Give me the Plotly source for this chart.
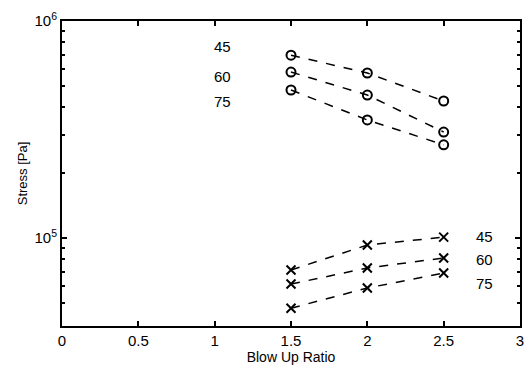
import math
import plotly.graph_objects as go

# Blow up ratios and stress values (Pa) for three angles
blow_up_ratio = [1.5, 2.0, 2.5]
angles = ["45", "60", "75"]

# circle series (upper group)
stress_o_45 = [6.96e5, 5.76e5, 4.28e5]
stress_o_60 = [5.82e5, 4.56e5, 3.08e5]
stress_o_75 = [4.81e5, 3.50e5, 2.69e5]

# cross series (lower group)
stress_x_45 = [7.13e4, 9.29e4, 1.01e5]
stress_x_60 = [6.14e4, 7.28e4, 8.10e4]
stress_x_75 = [4.75e4, 5.89e4, 6.90e4]

x_ticks = [0, 0.5, 1, 1.5, 2, 2.5, 3]
x_tick_text = ["0", "0.5", "1", "1.5", "2", "2.5", "3"]
y_ticks = [1e5, 1e6]
y_tick_text = ["10<sup>5</sup>", "10<sup>6</sup>"]
y_minor_ticks = [5e4, 6e4, 7e4, 8e4, 9e4,
                 2e5, 3e5, 4e5, 5e5, 6e5, 7e5, 8e5, 9e5]

# label positions for the angle annotations
label_upper_x = 1.05
label_upper_y = [7.67e5, 5.58e5, 4.24e5]
label_lower_x = 2.77
label_lower_y = [1.02e5, 7.93e4, 6.21e4]

fig = go.Figure()

for ys in (stress_o_45, stress_o_60, stress_o_75):
    fig.add_trace(go.Scatter(
        x=blow_up_ratio, y=ys, mode="lines+markers",
        line=dict(color="black", width=1.5, dash="dash"),
        marker=dict(symbol="circle-open", size=9, color="black",
                    line=dict(width=2, color="black")),
        showlegend=False))

for ys in (stress_x_45, stress_x_60, stress_x_75):
    fig.add_trace(go.Scatter(
        x=blow_up_ratio, y=ys, mode="lines+markers",
        line=dict(color="black", width=1.5, dash="dash"),
        marker=dict(symbol="x-thin-open", size=9, color="black",
                    line=dict(width=2, color="black")),
        showlegend=False))

# annotations on a log axis take log10 positions
for name, yv in zip(angles, label_upper_y):
    fig.add_annotation(x=label_upper_x, y=math.log10(yv), text=name,
                       showarrow=False, xanchor="center", yanchor="middle",
                       font=dict(size=15, color="black"))
for name, yv in zip(angles, label_lower_y):
    fig.add_annotation(x=label_lower_x, y=math.log10(yv), text=name,
                       showarrow=False, xanchor="center", yanchor="middle",
                       font=dict(size=15, color="black"))

fig.update_layout(
    width=529, height=381,
    margin=dict(l=62, r=5, t=21, b=55),
    paper_bgcolor="white", plot_bgcolor="white",
    font=dict(family="Liberation Sans, Arial, sans-serif", size=14, color="black"),
    xaxis=dict(
        range=[0, 3], tickvals=x_ticks, ticktext=x_tick_text,
        ticks="inside", ticklen=5, tickwidth=1.5, tickcolor="black",
        tickfont=dict(size=15, color="black"),
        showline=True, linecolor="black", linewidth=2, mirror="ticks",
        showgrid=False, zeroline=False,
        title=dict(text="Blow Up Ratio", standoff=2,
                   font=dict(size=14, color="black")),
    ),
    yaxis=dict(
        type="log", range=[4.595, 6.0],
        tickvals=y_ticks, ticktext=y_tick_text,
        ticks="inside", ticklen=5, tickwidth=1.5, tickcolor="black",
        tickfont=dict(size=15, color="black"),
        minor=dict(ticks="inside", ticklen=3, tickcolor="black",
                   tickmode="array", tickvals=y_minor_ticks),
        showline=True, linecolor="black", linewidth=2, mirror="ticks",
        showgrid=False, zeroline=False,
        title=dict(text="Stress [Pa]", standoff=4,
                   font=dict(size=13, color="black")),
    ),
)

fig.write_html("out.html")
